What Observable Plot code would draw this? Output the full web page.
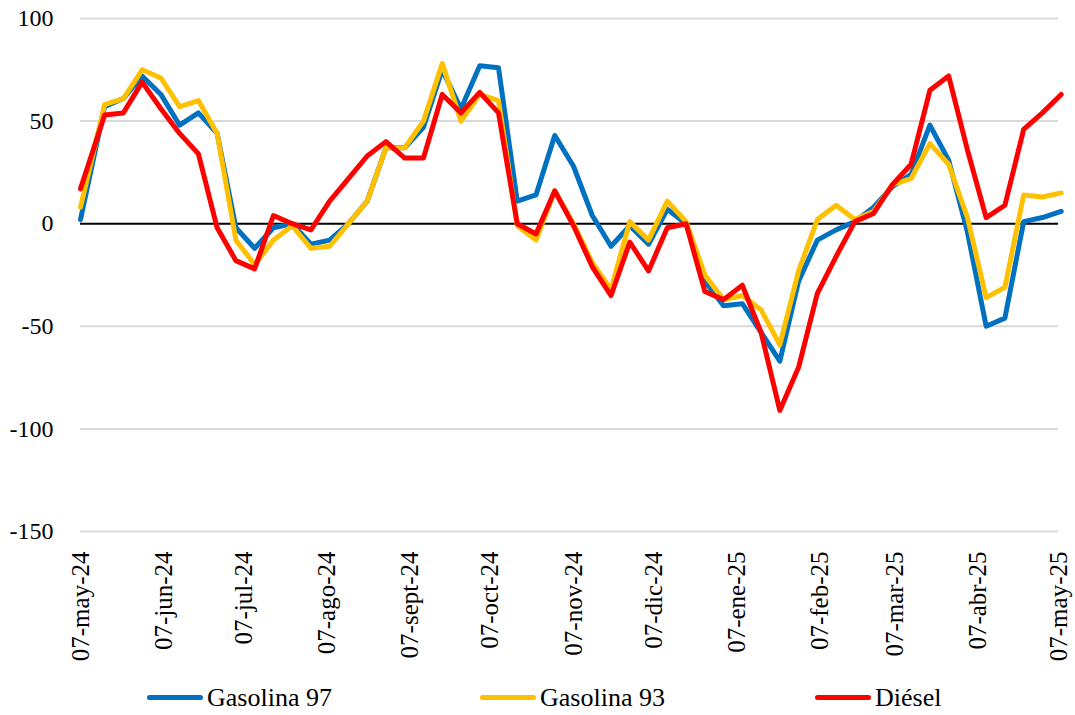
<!DOCTYPE html>
<html>
<head>
<meta charset="utf-8">
<script src="https://cdn.jsdelivr.net/npm/d3@7"></script>
<script src="https://cdn.jsdelivr.net/npm/@observablehq/plot@0.6"></script>
<style>
  html, body { margin: 0; padding: 0; background: #fff; }
  #chart { position: relative; width: 1075px; }
  #chart svg text { font-family: "Liberation Serif", "DejaVu Serif", "Times New Roman", Times, serif; }
  #legend { position: relative; width: 1075px; height: 35px; font-family: "Liberation Serif", "DejaVu Serif", "Times New Roman", Times, serif; font-size: 26px; color: #000; }
  .item { position: absolute; top: 0; height: 35px; display: flex; align-items: center; }
  .swatch { display: inline-block; width: 56px; height: 5px; border-radius: 3px; margin-right: 4px; }
</style>
</head>
<body>
<div id="chart"></div>
<div id="legend"></div>
<script>
const dates = ["2024-05-07","2024-05-16","2024-05-23","2024-05-30","2024-06-06","2024-06-13","2024-06-20","2024-06-27",
  "2024-07-04","2024-07-11","2024-07-18","2024-07-25","2024-08-01","2024-08-08","2024-08-15","2024-08-22","2024-08-29",
  "2024-09-05","2024-09-12","2024-09-19","2024-09-26","2024-10-03","2024-10-10","2024-10-17","2024-10-24","2024-10-31",
  "2024-11-07","2024-11-14","2024-11-21","2024-11-28","2024-12-05","2024-12-12","2024-12-19","2024-12-26",
  "2025-01-02","2025-01-09","2025-01-16","2025-01-23","2025-01-30","2025-02-06","2025-02-13","2025-02-20","2025-02-27",
  "2025-03-06","2025-03-13","2025-03-20","2025-03-27","2025-04-03","2025-04-10","2025-04-17","2025-04-24","2025-05-01","2025-05-08"];

const gasolina97 = [2,57,61,72,63,48,54,44,-2,-12,-2,0,-10,-8,0,11,37,37,47,75,56,77,76,11,14,43,28,4,-11,-1,-10,7,0,-28,-40,-39,-53,-67,-28,-8,-3,1,8,18,24,48,31,-4,-50,-46,1,3,6];
const gasolina93 = [8,58,61,75,71,57,60,44,-8,-20,-8,-1,-12,-11,0,11,37,37,50,78,50,63,60,-1,-8,16,0,-19,-32,1,-8,11,1,-25,-37,-35,-42,-59,-23,2,9,2,6,19,22,39,29,3,-36,-31,14,13,15];
const diesel = [17,53,54,69,56,44,34,-2,-18,-22,4,0,-3,11,22,33,40,32,32,63,54,64,54,0,-5,16,-1,-21,-35,-9,-23,-2,0,-33,-37,-30,-53,-91,-70,-34,-16,1,5,19,29,65,72,36,3,9,46,54,63];

const seriesNames = ["Gasolina 97", "Gasolina 93", "Diésel"];
const seriesColors = ["#0070C0", "#FFC000", "#FF0000"];
const seriesValues = [gasolina97, gasolina93, diesel];

const tickDates = ["2024-05-07","2024-06-07","2024-07-07","2024-08-07","2024-09-07","2024-10-07","2024-11-07",
  "2024-12-07","2025-01-07","2025-02-07","2025-03-07","2025-04-07","2025-05-07"];
const tickLabels = ["07-may-24","07-jun-24","07-jul-24","07-ago-24","07-sept-24","07-oct-24","07-nov-24",
  "07-dic-24","07-ene-25","07-feb-25","07-mar-25","07-abr-25","07-may-25"];
const yTicks = [100, 50, 0, -50, -100, -150];
const gridTicks = [100, 50, -50, -100, -150];

const parse = d3.utcParse("%Y-%m-%d");
const tickDateObjs = tickDates.map(parse);
const labelByTime = new Map(tickDateObjs.map((d, i) => [+d, tickLabels[i]]));

const rows = seriesValues.map((vals, s) => vals.map((v, i) => ({date: parse(dates[i]), value: v, series: seriesNames[s]})));

const chart = Plot.plot({
  width: 1075,
  height: 680,
  marginTop: 18,
  marginBottom: 149,
  marginLeft: 80,
  marginRight: 17,
  style: {fontFamily: "'Liberation Serif', 'DejaVu Serif', serif", fontSize: "24px", color: "#000", background: "#fff"},
  x: {type: "utc", domain: [parse("2024-05-07"), parse("2025-05-07")], label: null},
  y: {domain: [-150, 100], label: null},
  marks: [
    Plot.gridY(gridTicks, {stroke: "#d9d9d9", strokeOpacity: 1, strokeWidth: 2}),
    Plot.ruleY([0], {stroke: "#000", strokeWidth: 2}),
    ...rows.map((r, s) => Plot.line(r, {x: "date", y: "value", stroke: seriesColors[s], strokeWidth: 5, strokeLinejoin: "round", strokeLinecap: "round"})),
    Plot.axisY({ticks: yTicks, tickSize: 0, tickPadding: 27, tickFormat: d => String(d), fontSize: 24, label: null}),
    Plot.axisX({ticks: tickDateObjs, tickSize: 0, tickPadding: 20, tickRotate: -90, tickFormat: d => labelByTime.get(+d), fontSize: 25, label: null})
  ]
});
document.getElementById("chart").appendChild(chart);

const legend = document.getElementById("legend");
const legendLeft = [147, 480, 815];
seriesNames.forEach((name, i) => {
  const item = document.createElement("div");
  item.className = "item";
  item.style.left = legendLeft[i] + "px";
  const sw = document.createElement("span");
  sw.className = "swatch";
  sw.style.background = seriesColors[i];
  const tx = document.createElement("span");
  tx.textContent = name;
  item.appendChild(sw);
  item.appendChild(tx);
  legend.appendChild(item);
});
</script>
</body>
</html>
